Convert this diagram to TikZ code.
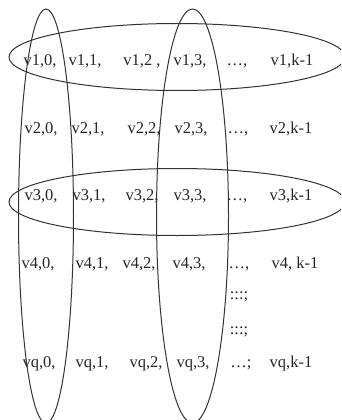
\documentclass[tikz,border=0pt]{standalone}
\usepackage{fontspec}
\setmainfont{Liberation Serif}
\usepackage{tikz}
\usetikzlibrary{shapes.geometric}

\begin{document}
\begin{tikzpicture}[x=1pt, y=-1pt,
        cell/.style={inner sep=0pt, anchor=base, font=\fontsize{16.5}{19}\selectfont, text=black!85},
        group/.style={ellipse, draw=black!80, line width=1pt, inner sep=0pt}
    ]
        \useasboundingbox (0,0) rectangle (341,420);
        \begin{scope}
        \clip (0,0) rectangle (341,420);
        % rows and columns that are grouped
        \node[group, minimum width=336pt, minimum height=67pt] (row1) at (177,57) {};
        \node[group, minimum width=336pt, minimum height=67pt] (row3) at (177,202) {};
        \node[group, minimum width=55pt, minimum height=414pt] (col0) at (46,216) {};
        \node[group, minimum width=72pt, minimum height=414pt] (col3) at (192.5,216) {};
        \end{scope}

        % row 1
        \node[cell] (v10) at (40,66) {v1,0,};
        \node[cell] (v11) at (85,66) {v1,1,};
        \node[cell] (v12) at (142,66) {v1,2 ,};
        \node[cell] (v13) at (190,66) {v1,3,};
        \node[cell] (v1d) at (237,66) {…,};
        \node[cell] (v1k) at (292,66) {v1,k-1};
        % row 2
        \node[cell] (v20) at (41,133) {v2,0,};
        \node[cell] (v21) at (88,133) {v2,1,};
        \node[cell] (v22) at (144,133) {v2,2,};
        \node[cell] (v23) at (191,133) {v2,3,};
        \node[cell] (v2d) at (238,133) {…,};
        \node[cell] (v2k) at (291,133) {v2,k-1};
        % row 3
        \node[cell] (v30) at (41,200) {v3,0,};
        \node[cell] (v31) at (89,200) {v3,1,};
        \node[cell] (v32) at (142,200) {v3,2,};
        \node[cell] (v33) at (190,200) {v3,3,};
        \node[cell] (v3d) at (237,200) {…,};
        \node[cell] (v3k) at (291,200) {v3,k-1};
        % row 4
        \node[cell] (v40) at (38,268) {v4,0,};
        \node[cell] (v41) at (92,268) {v4,1,};
        \node[cell] (v42) at (139,268) {v4,2,};
        \node[cell] (v43) at (189,268) {v4,3,};
        \node[cell] (v4d) at (239,268) {…,};
        \node[cell] (v4k) at (295,268) {v4, k-1};
        % vertical dots
        \node[cell] (dots1) at (239,299) {:::;};
        \node[cell] (dots2) at (239,334) {:::;};
        % row q
        \node[cell] (vq0) at (39,367) {vq,0,};
        \node[cell] (vq1) at (92,367) {vq,1,};
        \node[cell] (vq2) at (146,367) {vq,2,};
        \node[cell] (vq3) at (193,367) {vq,3,};
        \node[cell] (vqd) at (241,367) {…;};
        \node[cell] (vqk) at (291,367) {vq,k-1};
    \end{tikzpicture}
\end{document}
